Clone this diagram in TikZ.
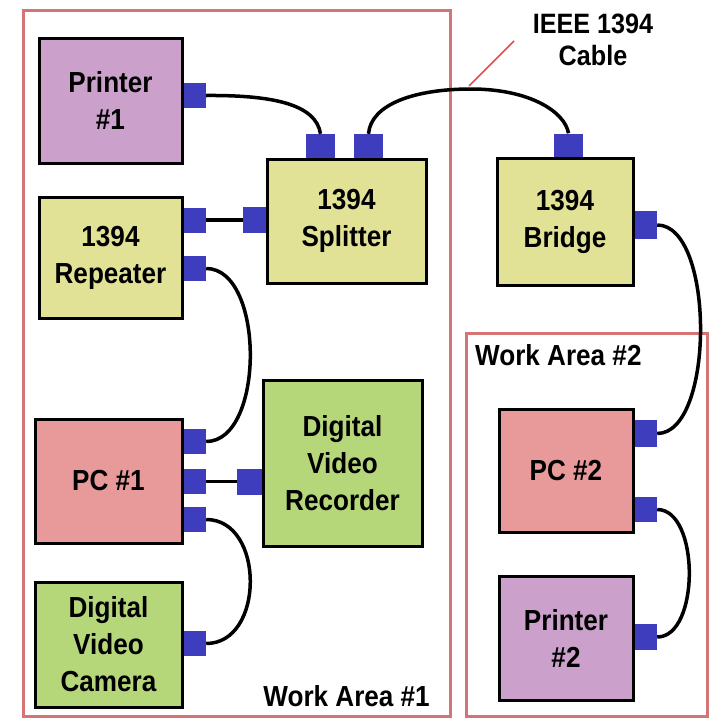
\documentclass[tikz,border=0pt]{standalone}
\usepackage{fontspec}
\newfontfamily\lblfont{Liberation Sans}[FakeStretch=0.9]
\definecolor{portblue}{HTML}{3D3DBE}
\definecolor{lav}{HTML}{CBA0CB}
\definecolor{yel}{HTML}{E2E296}
\definecolor{pink}{HTML}{E89A9A}
\definecolor{grn}{HTML}{B6D67A}
\definecolor{areared}{HTML}{D47474}
\definecolor{leadred}{HTML}{F04848}
\tikzset{
  device/.style={draw=black, line width=3pt, inner sep=0pt, align=center,
    font=\lblfont\bfseries\fontsize{29}{37}\selectfont},
  port/.style={fill=portblue, inner sep=0pt, minimum width=24pt, minimum height=25pt},
  topport/.style={port, minimum width=29pt},
  cable/.style={draw=black, line width=3.5pt},
  area/.style={draw=areared, line width=3pt},
  arealabel/.style={font=\lblfont\bfseries\fontsize{29}{37}\selectfont, inner sep=0pt},
}
\begin{document}
\begin{tikzpicture}[x=1pt,y=-1pt]
\useasboundingbox (0,0) rectangle (709,718);

% work areas
\draw[area] (23,10) rectangle (450,716);
\draw[area] (466,333) rectangle (707,716);
\node[arealabel, anchor=base east] (wa1) at (430,706) {Work Area \#1};
\node[arealabel, anchor=base west] (wa2) at (475,365) {Work Area \#2};

% ports
\node[port] (p1r) at (194,95.5) {};
\node[port] (rep1) at (194,220) {};
\node[port] (rep2) at (194,268.5) {};
\node[topport] (spl1) at (320.5,146.5) {};
\node[topport] (spl2) at (368.5,146.5) {};
\node[port, minimum height=26pt] (splL) at (255,220) {};
\node[topport] (brT) at (568.5,146) {};
\node[port, minimum height=28pt] (brR) at (645,225) {};
\node[port] (pc1a) at (194,441.5) {};
\node[port] (pc1b) at (194,481.5) {};
\node[port] (pc1c) at (194,519.5) {};
\node[port, minimum width=26pt, minimum height=26pt] (dvrL) at (250,481.5) {};
\node[port] (camR) at (194,643.5) {};
\node[port, minimum height=27pt] (pc2a) at (645,433.5) {};
\node[port] (pc2b) at (645,509.5) {};
\node[port, minimum height=26pt] (pr2R) at (645,637) {};

% devices
\node[device, fill=lav, minimum width=143pt, minimum height=125pt] (printer1) at (110.5,100.5) {Printer\\\#1};
\node[device, fill=yel, minimum width=143pt, minimum height=121pt] (repeater) at (110.5,257.5) {1394\\Repeater};
\node[device, fill=yel, minimum width=159pt, minimum height=124pt] (splitter) at (346.5,221) {1394\\Splitter};
\node[device, fill=yel, minimum width=136pt, minimum height=127pt] (bridge) at (565,221.5) {1394\\Bridge};
\node[device, fill=pink, minimum width=147pt, minimum height=124pt] (pc1) at (108.5,481) {PC \#1};
\node[device, fill=grn, minimum width=159pt, minimum height=166pt] (dvr) at (342.5,463) {Digital\\Video\\Recorder};
\node[device, fill=grn, minimum width=147pt, minimum height=125pt] (camera) at (108.5,644.5) {Digital\\Video\\Camera};
\node[device, fill=pink, minimum width=134pt, minimum height=123pt] (pc2) at (566,470.5) {PC \#2};
\node[device, fill=lav, minimum width=134pt, minimum height=124pt] (printer2) at (566,638) {Printer\\\#2};

% cables
\coordinate (peak) at (471,89);
\draw[cable] (p1r.east) .. controls (272,95) and (316,104) .. (spl1.north);
\draw[cable] (spl2.north) .. controls (371,104) and (415,89) .. (peak)
                          .. controls (530,89) and (565,112) .. (brT.north);
\draw[cable] (rep1.east) -- (splL.west);
\draw[cable] (rep2.east) .. controls (265,268.5) and (265,441.5) .. (pc1a.east);
\draw[cable] (pc1b.east) -- (dvrL.west);
\draw[cable] (pc1c.east) .. controls (265,519.5) and (265,643.5) .. (camR.east);
\draw[cable] (brR.east) .. controls (715,225) and (715,433.5) .. (pc2a.east);
\draw[cable] (pc2b.east) .. controls (700,509.5) and (700,637) .. (pr2R.east);

% cable label with leader
\node[font=\lblfont\bfseries\fontsize{28}{32}\selectfont, align=center, inner sep=0pt] (cablelbl) at (593,40) {IEEE 1394\\Cable};
\coordinate (leadstart) at (514,41);
\draw[leadred, line width=1.5pt] (leadstart) -- ([shift={(-2,-3)}]peak);
\end{tikzpicture}
\end{document}
